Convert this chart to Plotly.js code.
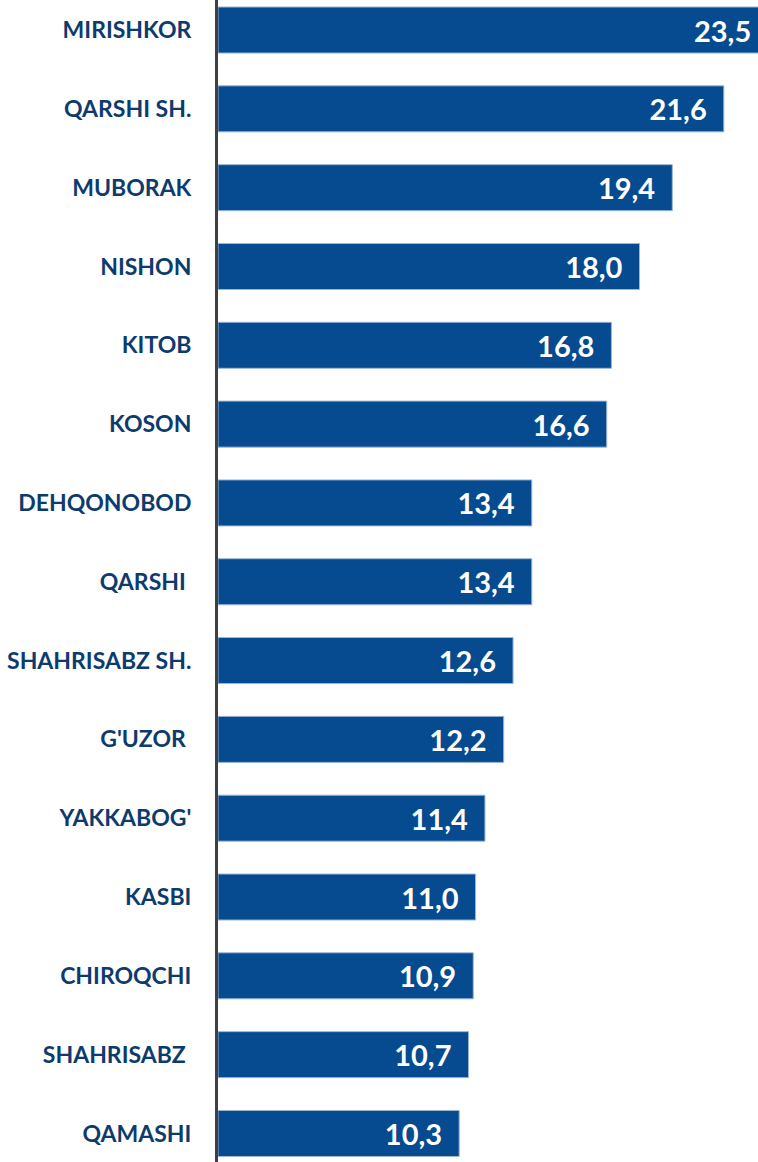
<!DOCTYPE html>
<html>
<head>
<meta charset="utf-8">
<script src="https://cdn.plot.ly/plotly-3.0.1.min.js"></script>
<style>html,body{margin:0;padding:0;background:#fff;}#chart{width:758px;height:1162px;}</style>
</head>
<body>
<div id="chart"></div>
<script>
var districts = ["MIRISHKOR","QARSHI SH.","MUBORAK","NISHON","KITOB","KOSON","DEHQONOBOD","QARSHI ","SHAHRISABZ SH.","G'UZOR ","YAKKABOG'","KASBI","CHIROQCHI","SHAHRISABZ ","QAMASHI"];
var values = [23.5,21.6,19.4,18.0,16.8,16.6,13.4,13.4,12.6,12.2,11.4,11.0,10.9,10.7,10.3];

var trace = {
  type: 'bar',
  orientation: 'h',
  y: districts,
  x: values,
  marker: {color: '#064A8F', line: {color: '#9DB6D6', width: 1}},
  texttemplate: '%{x:.1f}\u00A0\u00A0',
  textposition: 'inside',
  insidetextanchor: 'end',
  textangle: 0,
  textfont: {family: 'Lato, sans-serif', size: 29, color: '#ffffff', weight: 700},
  constraintext: 'none',
  cliponaxis: true,
  hoverinfo: 'none'
};

var layout = {
  width: 758, height: 1162,
  margin: {l: 218, r: 0, t: 0, b: 0},
  paper_bgcolor: '#ffffff', plot_bgcolor: '#ffffff',
  separators: ', ',
  bargap: 0.416,
  showlegend: false,
  xaxis: {range: [0, 23.06], showgrid: false, zeroline: false, showticklabels: false, ticks: '', showline: false, fixedrange: true},
  yaxis: {
    type: 'category',
    range: [14.362, -0.381],
    showgrid: false, zeroline: false, ticks: '',
    showline: true, linecolor: '#404040', linewidth: 3,
    ticklabelstandoff: 19,
    tickfont: {family: 'Lato, sans-serif', size: 23, color: '#0D3B6E', weight: 700},
    fixedrange: true
  }
};

Plotly.newPlot('chart', [trace], layout, {displayModeBar: false, staticPlot: true});
</script>
</body>
</html>
